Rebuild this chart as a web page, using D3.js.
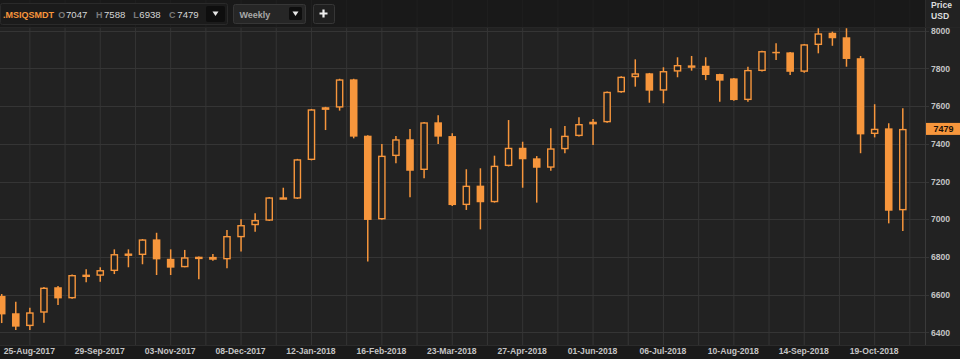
<!DOCTYPE html>
<html><head><meta charset="utf-8">
<script src="https://cdn.jsdelivr.net/npm/d3@7"></script>
<style>body{margin:0;background:#222;overflow:hidden} svg{display:block}</style>
</head><body><svg id="c" width="960" height="359"></svg>
<script>
const dates = ["2017-08-11","2017-08-18","2017-08-25","2017-09-01","2017-09-08","2017-09-15","2017-09-22","2017-09-29","2017-10-06","2017-10-13","2017-10-20","2017-10-27","2017-11-03","2017-11-10","2017-11-17","2017-11-24","2017-12-01","2017-12-08","2017-12-15","2017-12-22","2017-12-29","2018-01-05","2018-01-12","2018-01-19","2018-01-26","2018-02-02","2018-02-09","2018-02-16","2018-02-23","2018-03-02","2018-03-09","2018-03-16","2018-03-23","2018-03-30","2018-04-06","2018-04-13","2018-04-20","2018-04-27","2018-05-04","2018-05-11","2018-05-18","2018-05-25","2018-06-01","2018-06-08","2018-06-15","2018-06-22","2018-06-29","2018-07-06","2018-07-13","2018-07-20","2018-07-27","2018-08-03","2018-08-10","2018-08-17","2018-08-24","2018-08-31","2018-09-07","2018-09-14","2018-09-21","2018-09-28","2018-10-05","2018-10-12","2018-10-19","2018-10-26","2018-11-02"];
const opens  = [6593,6501,6433,6504,6639,6580,6702,6700,6725,6815,6810,6893,6790,6745,6799,6800,6787,6904,6968,6992,7112,7109,7314,7580,7592,7742,7443,6999,7335,7424,7261,7514,7441,7075,7178,7090,7282,7379,7323,7273,7371,7441,7503,7514,7673,7753,7774,7682,7783,7812,7814,7770,7747,7632,7786,7888,7885,7782,7924,7989,7965,7854,7452,7482,7047];
const highs  = [6603,6562,6530,6640,6645,6706,6734,6745,6840,6840,6895,6928,6840,6837,6802,6815,6943,7000,7031,7118,7167,7320,7585,7596,7745,7745,7445,7399,7441,7478,7516,7551,7456,7265,7270,7337,7526,7411,7335,7482,7494,7541,7532,7678,7758,7848,7776,7806,7859,7866,7859,7772,7749,7809,7894,7933,7887,7930,8013,7995,8013,7866,7610,7509,7588];
const lows   = [6449,6412,6412,6451,6545,6578,6665,6668,6709,6745,6761,6704,6704,6745,6681,6780,6740,6828,6934,6990,7110,7107,7312,7473,7576,7429,6775,6997,7297,7116,7217,7399,7070,7049,6946,7088,7280,7167,7088,7257,7350,7439,7394,7512,7671,7703,7618,7615,7753,7788,7738,7623,7628,7623,7784,7845,7765,7777,7880,7920,7809,7350,7434,6978,6938];
const closes = [6495,6430,6506,6637,6580,6704,6706,6730,6815,6818,6893,6787,6743,6798,6801,6785,6911,6969,6996,7116,7116,7318,7583,7594,7742,7438,6996,7337,7424,7257,7514,7438,7075,7178,7090,7284,7379,7318,7273,7376,7443,7505,7517,7676,7756,7774,7682,7786,7818,7816,7765,7735,7632,7792,7892,7882,7782,7928,7986,7960,7850,7450,7480,7045,7479];
const yTicks = [6400,6600,6800,7000,7200,7400,7600,7800,8000];
const xTickDates = ["2017-08-25","2017-09-29","2017-11-03","2017-12-08","2018-01-12","2018-02-16","2018-03-23","2018-04-27","2018-06-01","2018-07-06","2018-08-10","2018-09-14","2018-10-19"];
const symbol = ".MSIQSMDT";
const ohlcLabels = ["O","H","L","C"];
const ohlcValues = [7047,7588,6938,7479];
const intervalLabel = "Weekly";
const priceTitle = ["Price","USD"];
const lastPrice = 7479;

const ORANGE = "#f7963c", BG = "#222222", GRID = "#353535", TXT = "#c4c4c4";
const FONT = "'Liberation Sans', Arial, Helvetica, sans-serif";
const plotRight = 925.5, plotBottom = 345;
const parse = d3.timeParse("%Y-%m-%d");
const svg = d3.select("#c").style("font-family", FONT);

const x = d3.scaleTime().domain([parse(dates[0]), parse(dates[dates.length-1])]).range([1.7, 902.8]);
const y = d3.scaleLinear().domain([6400, 8000]).range([332.3, 30.7]);

svg.append("rect").attr("width",960).attr("height",359).attr("fill",BG);

// vertical gridlines: at label dates and halfway between them
const tickD = xTickDates.map(parse);
const gridD = [];
tickD.forEach((d,i)=>{
  gridD.push(d);
  const nxt = i < tickD.length-1 ? tickD[i+1] : new Date(+d + (+d - +tickD[i-1]));
  gridD.push(new Date((+d + +nxt)/2));
});
svg.append("g").selectAll("line").data(gridD).join("line")
  .attr("x1",d=>x(d)).attr("x2",d=>x(d)).attr("y1",0).attr("y2",plotBottom)
  .attr("stroke",GRID).attr("stroke-width",1);
svg.append("g").selectAll("line").data(yTicks).join("line")
  .attr("x1",0).attr("x2",929).attr("y1",d=>Math.round(y(d))+0.5).attr("y2",d=>Math.round(y(d))+0.5)
  .attr("stroke",GRID).attr("stroke-width",1);

// right axis separator
svg.append("line").attr("x1",plotRight).attr("x2",plotRight).attr("y1",0).attr("y2",plotBottom).attr("stroke","#3a3a3a");
// bottom band
svg.append("rect").attr("x",0).attr("y",plotBottom).attr("width",960).attr("height",359-plotBottom).attr("fill","#1a1a1a");
svg.append("line").attr("x1",0).attr("x2",960).attr("y1",plotBottom+0.5).attr("y2",plotBottom+0.5).attr("stroke","#2c2c2c");

// candles
const data = dates.map((d,i)=>({date:parse(d),o:opens[i],h:highs[i],l:lows[i],c:closes[i]}));
const bw = 7.6;
const cg = svg.append("g");
cg.selectAll("line").data(data).join("line")
  .attr("x1",d=>x(d.date)).attr("x2",d=>x(d.date))
  .attr("y1",d=>y(d.h)).attr("y2",d=>y(d.l))
  .attr("stroke",ORANGE).attr("stroke-width",1.5);
cg.selectAll("rect").data(data).join("rect")
  .attr("x",d=>d.c>=d.o ? x(d.date)-bw/2+0.7 : x(d.date)-bw/2)
  .attr("width",d=>d.c>=d.o ? bw-1.4 : bw)
  .attr("y",d=>y(Math.max(d.o,d.c)) + (d.c>=d.o?0.7:0))
  .attr("height",d=>{const hgt=Math.abs(y(d.o)-y(d.c)); return d.c>=d.o ? Math.max(1,hgt-1.4) : Math.max(1.5,hgt);})
  .attr("fill",d=>d.c>=d.o ? BG : ORANGE)
  .attr("stroke",ORANGE).attr("stroke-width",d=>d.c>=d.o?1.4:0);

// y axis
const yAxis = svg.append("g").attr("transform",`translate(${plotRight},0)`)
  .call(d3.axisRight(y).tickValues(yTicks).tickSize(0).tickPadding(5.5).tickFormat(d3.format("d")));
yAxis.select(".domain").remove();
yAxis.selectAll("text").attr("fill",TXT).style("font-size","8.6px").style("font-weight","bold").style("font-family",FONT);

// x axis
const xAxis = svg.append("g").attr("transform",`translate(-1,${plotBottom})`)
  .call(d3.axisBottom(x).tickValues(tickD).tickSize(0).tickPadding(3).tickFormat(d3.timeFormat("%d-%b-%Y")));
xAxis.select(".domain").remove();
xAxis.selectAll("text").attr("fill",TXT).style("font-size","8.6px").style("font-weight","bold").style("font-family",FONT);

// price title
svg.selectAll(".pt").data(priceTitle).join("text").attr("class","pt")
  .attr("x",931).attr("y",(d,i)=>8+i*10.5).text(d=>d)
  .attr("fill","#dcdcdc").style("font-size","8.6px").style("font-weight","bold");

// last price tag
svg.append("rect").attr("x",plotRight+0.5).attr("y",y(lastPrice)-6).attr("width",960-plotRight).attr("height",12).attr("fill",ORANGE);
svg.append("text").attr("x",943.5).attr("y",y(lastPrice)+3.2).attr("text-anchor","middle").text(lastPrice)
  .attr("fill","#1a1008").style("font-size","9px").style("font-weight","bold");

// header
svg.append("rect").attr("x",0).attr("y",0).attr("width",plotRight).attr("height",27).attr("fill","#161616").attr("opacity",0.7);
svg.append("rect").attr("x",0.5).attr("y",3.5).attr("width",227).attr("height",21).attr("fill","#1b1b1b").attr("stroke","#2a2a2a").attr("rx",2);
svg.append("text").attr("x",3).attr("y",17.5).text(symbol).attr("fill",ORANGE).style("font-size","9px").style("font-weight","bold");
const lblX = [58.3,96,133.3,169], valX = [66,104,139.3,177.3];
ohlcLabels.forEach((l,i)=>{
  svg.append("text").attr("x",lblX[i]).attr("y",17.5).text(l).attr("fill","#7a7a7a").style("font-size","9px").style("font-weight","bold");
  svg.append("text").attr("x",valX[i]).attr("y",17.5).text(ohlcValues[i]).attr("fill","#d6d6d6").style("font-size","9.6px");
});
function tri(cx,cy){
  svg.append("path").attr("d",`M${cx-3},${cy-2}L${cx+3},${cy-2}L${cx},${cy+2.5}Z`).attr("fill","#e8e8e8");
}
svg.append("rect").attr("x",206).attr("y",6).attr("width",19).attr("height",16).attr("fill","#0e0e0e").attr("rx",2);
tri(215.5,13.5);
svg.append("rect").attr("x",233.5).attr("y",4.5).attr("width",72).attr("height",19).attr("fill","#262626").attr("stroke","#363636").attr("rx",2);
svg.append("text").attr("x",239.5).attr("y",17.5).text(intervalLabel).attr("fill","#a8a8a8").style("font-size","9px").style("font-weight","bold");
svg.append("rect").attr("x",289).attr("y",7).attr("width",13).attr("height",13).attr("fill","#0e0e0e").attr("rx",1.5);
tri(295.5,13.5);
svg.append("rect").attr("x",313.5).attr("y",4.5).attr("width",21).attr("height",19).attr("fill","#1f1f1f").attr("stroke","#363636").attr("rx",2);
svg.append("path").attr("d","M319.5,13.5H327.5M323.5,9.5V17.5").attr("stroke","#eeeeee").attr("stroke-width",2.2);
svg.append("line").attr("x1",0).attr("x2",960).attr("y1",27.5).attr("y2",27.5).attr("stroke","#262626");
</script></body></html>
